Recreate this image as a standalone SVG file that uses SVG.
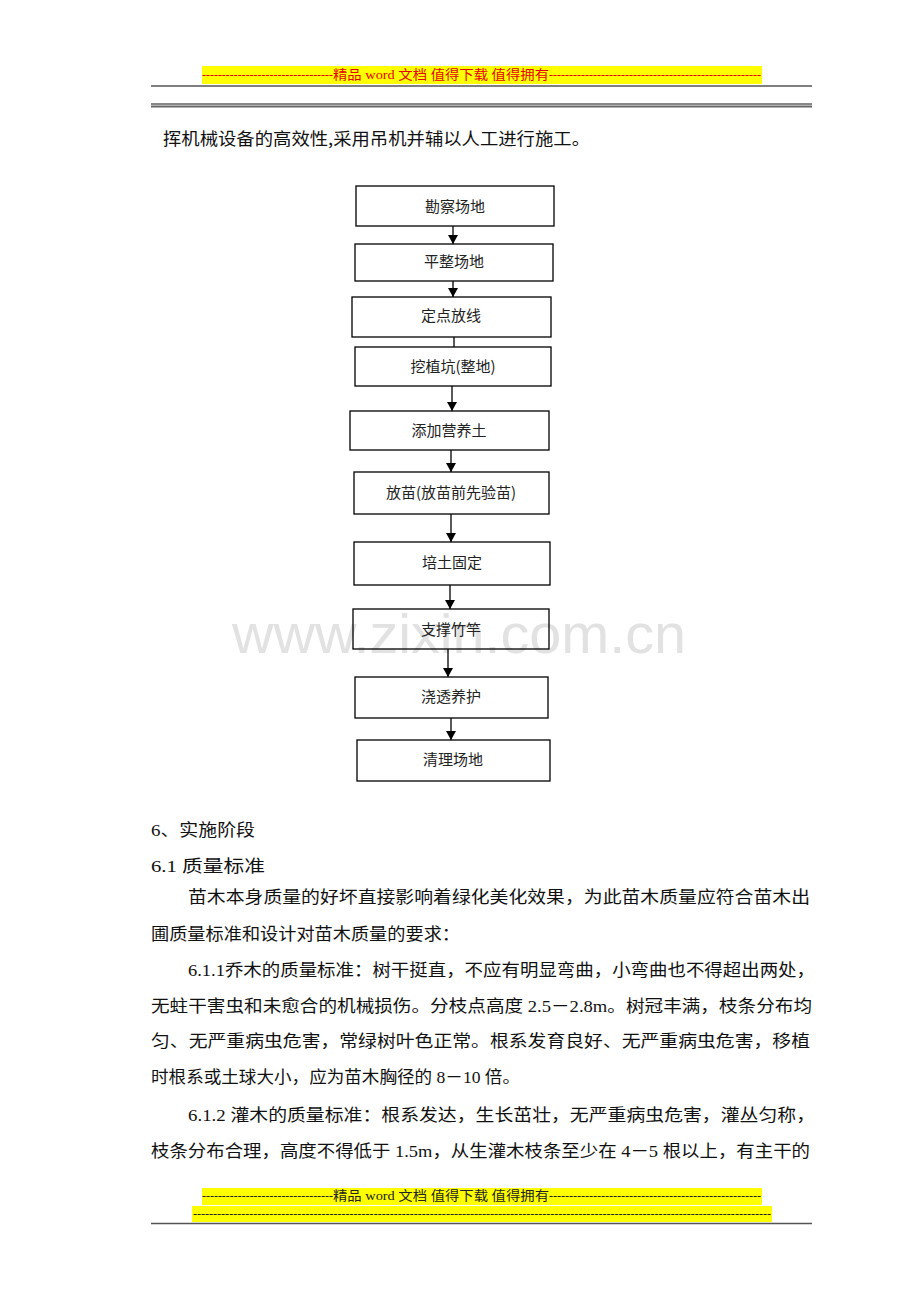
<svg xmlns="http://www.w3.org/2000/svg" width="920" height="1302" viewBox="0 0 920 1302">
<style>
.hd{font-family:"Liberation Serif","Noto Sans CJK SC",serif;font-size:13px}
.box{fill:none;stroke:#000;stroke-width:1.3}
.bt{font-family:"Noto Sans CJK SC",sans-serif;font-size:15px;fill:#222;text-anchor:middle;dominant-baseline:central}
.body{font-family:"Liberation Serif","Noto Sans CJK SC",serif;font-size:16.5px;fill:#111}
.wm{font-family:"Liberation Sans",Arial,sans-serif;font-size:56px;fill:#e2e2e2}
.cn{stroke:#000;stroke-width:1.3;fill:none}
</style>
<defs>
<marker id="ah" markerWidth="9" markerHeight="10" refX="9" refY="5" orient="auto" markerUnits="userSpaceOnUse">
<path d="M0,0 L9,5 L0,10 Z" fill="#000"/>
</marker>
</defs>
<rect width="920" height="1302" fill="#fff"/>
<g id="header">
<rect x="202" y="66" width="560" height="18" fill="#ffff00"/>
<text class="hd" x="202" y="79" fill="#e60000" textLength="131" lengthAdjust="spacingAndGlyphs">---------------------------------</text>
<text class="hd" x="333" y="79" fill="#e60000" textLength="216" lengthAdjust="spacingAndGlyphs">精品 word 文档  值得下载  值得拥有</text>
<text class="hd" x="549" y="79" fill="#e60000" textLength="212" lengthAdjust="spacingAndGlyphs">-----------------------------------------------------</text>
<line x1="151" y1="86" x2="812" y2="86" stroke="#555" stroke-width="1.5"/>
<line x1="151" y1="104" x2="812" y2="104" stroke="#111" stroke-width="1"/>
<line x1="151" y1="106.5" x2="812" y2="106.5" stroke="#666" stroke-width="1.8"/>
</g>
<text class="body" x="163" y="145" textLength="427" lengthAdjust="spacingAndGlyphs" style="font-family:'Noto Sans CJK SC',sans-serif;font-size:17px">挥机械设备的高效性,采用吊机并辅以人工进行施工。</text>
<text class="wm" x="232" y="653" textLength="454" lengthAdjust="spacingAndGlyphs">www.zixin.com.cn</text>
<g id="connectors">
<line class="cn" x1="453" y1="226" x2="453" y2="244" marker-end="url(#ah)"/>
<line class="cn" x1="453" y1="281" x2="453" y2="297" marker-end="url(#ah)"/>
<line class="cn" x1="454" y1="337" x2="454" y2="347"/>
<line class="cn" x1="452" y1="386" x2="452" y2="411" marker-end="url(#ah)"/>
<line class="cn" x1="451" y1="450" x2="451" y2="472" marker-end="url(#ah)"/>
<line class="cn" x1="451" y1="514" x2="451" y2="542" marker-end="url(#ah)"/>
<line class="cn" x1="450" y1="585" x2="450" y2="609" marker-end="url(#ah)"/>
<line class="cn" x1="448" y1="649" x2="448" y2="677" marker-end="url(#ah)"/>
<line class="cn" x1="451" y1="718" x2="451" y2="740" marker-end="url(#ah)"/>
</g>
<g id="n1"><rect class="box" x="356" y="186" width="198" height="40"/><text class="bt" x="455" y="205">勘察场地</text></g>
<g id="n2"><rect class="box" x="355" y="244" width="198" height="37"/><text class="bt" x="454" y="260">平整场地</text></g>
<g id="n3"><rect class="box" x="352" y="297" width="199" height="40"/><text class="bt" x="451" y="314">定点放线</text></g>
<g id="n4"><rect class="box" x="355" y="347" width="196" height="39"/><text class="bt" x="453" y="365">挖植坑(整地)</text></g>
<g id="n5"><rect class="box" x="350" y="411" width="199" height="39"/><text class="bt" x="449" y="429">添加营养土</text></g>
<g id="n6"><rect class="box" x="354" y="472" width="195" height="42"/><text class="bt" x="451" y="491">放苗(放苗前先验苗)</text></g>
<g id="n7"><rect class="box" x="354" y="542" width="196" height="43"/><text class="bt" x="452" y="561">培土固定</text></g>
<g id="n8"><rect class="box" x="353" y="609" width="196" height="40"/><text class="bt" x="451" y="628">支撑竹竿</text></g>
<g id="n9"><rect class="box" x="355" y="677" width="193" height="41"/><text class="bt" x="451" y="695">浇透养护</text></g>
<g id="n10"><rect class="box" x="357" y="740" width="193" height="41"/><text class="bt" x="453" y="758">清理场地</text></g>
<g id="bodytext">
<text class="body" x="151" y="836" textLength="104" lengthAdjust="spacingAndGlyphs">6、实施阶段</text>
<text class="body" x="151" y="872" textLength="114" lengthAdjust="spacingAndGlyphs">6.1 质量标准</text>
<text class="body" x="188" y="903" textLength="622" lengthAdjust="spacingAndGlyphs">苗木本身质量的好坏直接影响着绿化美化效果，为此苗木质量应符合苗木出</text>
<text class="body" x="151" y="940" textLength="309" lengthAdjust="spacingAndGlyphs">圃质量标准和设计对苗木质量的要求：</text>
<text class="body" x="188" y="976" textLength="627" lengthAdjust="spacingAndGlyphs">6.1.1乔木的质量标准：树干挺直，不应有明显弯曲，小弯曲也不得超出两处，</text>
<text class="body" x="151" y="1012" textLength="661" lengthAdjust="spacingAndGlyphs">无蛀干害虫和未愈合的机械损伤。分枝点高度 2.5－2.8m。树冠丰满，枝条分布均</text>
<text class="body" x="151" y="1047" textLength="659" lengthAdjust="spacingAndGlyphs">匀、无严重病虫危害，常绿树叶色正常。根系发育良好、无严重病虫危害，移植</text>
<text class="body" x="151" y="1083" textLength="369" lengthAdjust="spacingAndGlyphs">时根系或土球大小，应为苗木胸径的 8－10 倍。</text>
<text class="body" x="188" y="1121" textLength="627" lengthAdjust="spacingAndGlyphs">6.1.2 灌木的质量标准：根系发达，生长茁壮，无严重病虫危害，灌丛匀称，</text>
<text class="body" x="151" y="1157" textLength="659" lengthAdjust="spacingAndGlyphs">枝条分布合理，高度不得低于 1.5m，从生灌木枝条至少在 4－5 根以上，有主干的</text>
</g>
<g id="footer">
<rect x="202" y="1188" width="560" height="17" fill="#ffff00"/>
<rect x="192" y="1206" width="580" height="16" fill="#ffff00"/>
<text class="hd" x="202" y="1200" fill="#222" textLength="131" lengthAdjust="spacingAndGlyphs">---------------------------------</text>
<text class="hd" x="333" y="1200" fill="#222" textLength="216" lengthAdjust="spacingAndGlyphs">精品 word 文档  值得下载  值得拥有</text>
<text class="hd" x="549" y="1200" fill="#222" textLength="212" lengthAdjust="spacingAndGlyphs">-----------------------------------------------------</text>
<text class="hd" x="193" y="1218" fill="#222" textLength="578" lengthAdjust="spacingAndGlyphs">------------------------------------------------------------------------------------------------------------------------------------------------</text>
<line x1="151" y1="1223.5" x2="812" y2="1223.5" stroke="#555" stroke-width="1.5"/>
</g>
</svg>
